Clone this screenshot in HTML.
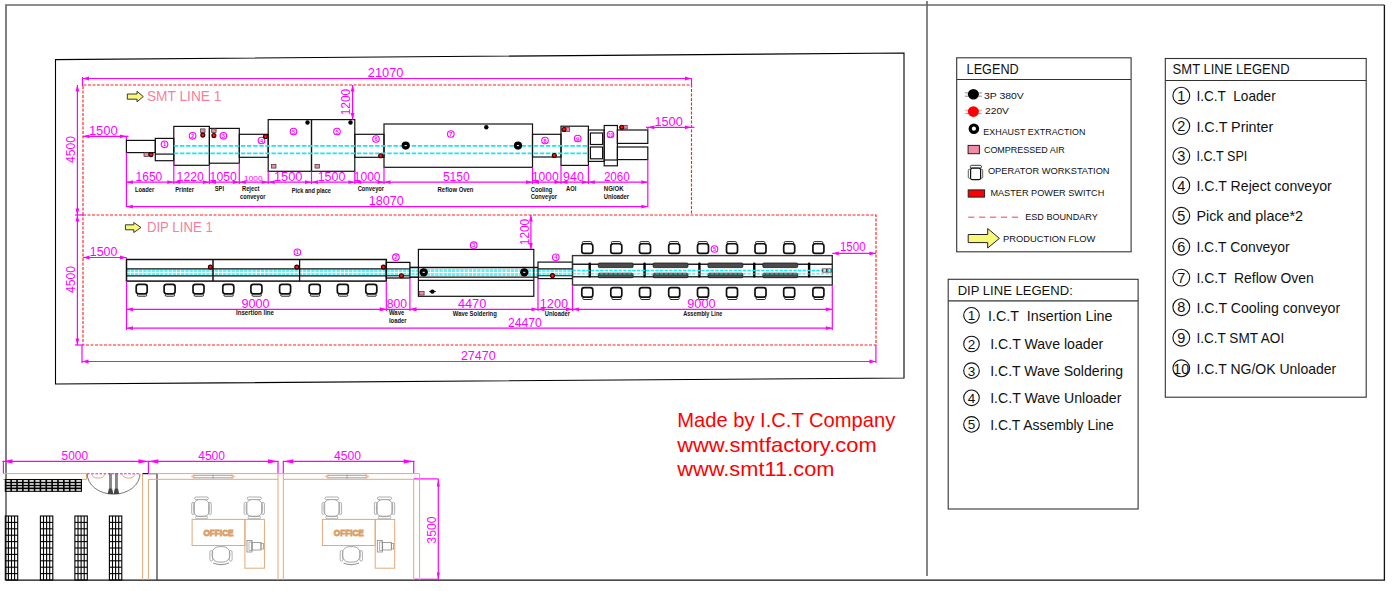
<!DOCTYPE html>
<html><head><meta charset="utf-8"><style>
html,body{margin:0;padding:0;background:#fff;}
svg{display:block;font-family:"Liberation Sans",sans-serif;}
text{white-space:pre;}
</style></head><body>
<svg width="1392" height="591" viewBox="0 0 1392 591">
<rect x="0" y="0" width="1392" height="591" fill="#fff"/>
<polyline points="6,580 6,5 1384.4,5" fill="none" stroke="#6a6a6a" stroke-width="1.7"/>
<polyline points="1384.4,5 1384.4,580.2 6,580.2" fill="none" stroke="#111" stroke-width="1.3"/>
<line x1="927" y1="1" x2="927" y2="576" stroke="#666" stroke-width="1.6" />
<polygon points="55.5,59.6 904,53 904,378 55.5,384" fill="none" stroke="#000" stroke-width="1.1"/>
<rect x="956.7" y="57.8" width="174.4" height="194" stroke="#333" stroke-width="1.1" fill="none" />
<line x1="956.7" y1="79.5" x2="1131.1" y2="79.5" stroke="#333" stroke-width="1.1" />
<text x="966.6" y="74.2" font-size="15" fill="#111" text-anchor="start" textLength="52.1" lengthAdjust="spacingAndGlyphs" >LEGEND</text>
<line x1="964.9" y1="92.89999999999999" x2="981.9" y2="92.89999999999999" stroke="#000" stroke-width="1" opacity="0.45"/>
<line x1="964.9" y1="96.2" x2="981.9" y2="96.2" stroke="#000" stroke-width="1" opacity="0.45"/>
<ellipse cx="973.4" cy="94.3" rx="5.5" ry="5.3" fill="#000"/>
<text x="983.9" y="98.9" font-size="9.8" fill="#111" text-anchor="start" textLength="39.9" lengthAdjust="spacingAndGlyphs" >3P 380V</text>
<line x1="964.9" y1="110.19999999999999" x2="981.9" y2="110.19999999999999" stroke="#ff0000" stroke-width="1" opacity="0.45"/>
<line x1="964.9" y1="113.5" x2="981.9" y2="113.5" stroke="#ff0000" stroke-width="1" opacity="0.45"/>
<ellipse cx="973.4" cy="111.6" rx="5.5" ry="5.3" fill="#ff0000"/>
<text x="985.0" y="114.1" font-size="9.8" fill="#111" text-anchor="start" textLength="23.9" lengthAdjust="spacingAndGlyphs" >220V</text>
<circle cx="973.9" cy="128.7" r="3.7" fill="none" stroke="#000" stroke-width="3.2"/>
<text x="983.3" y="134.8" font-size="9.8" fill="#111" text-anchor="start" textLength="102.1" lengthAdjust="spacingAndGlyphs" >EXHAUST EXTRACTION</text>
<rect x="968.1" y="145.4" width="11.3" height="8.3" stroke="#222" stroke-width="1" fill="#f48aa5" />
<text x="983.9" y="152.8" font-size="9.8" fill="#111" text-anchor="start" textLength="80.9" lengthAdjust="spacingAndGlyphs" >COMPRESSED AIR</text>
<rect x="970.3" y="165.3" width="11.2" height="2.9" rx="1.4" fill="#fff" stroke="#222" stroke-width="0.9"/>
<rect x="968.3" y="169.3" width="2.4" height="9" rx="1" fill="#fff" stroke="#333" stroke-width="0.8"/>
<rect x="980.3" y="169.3" width="2.4" height="9" rx="1" fill="#fff" stroke="#333" stroke-width="0.8"/>
<rect x="970.6" y="168.2" width="10" height="11.5" rx="1.8" fill="#fff" stroke="#111" stroke-width="1.2"/>
<text x="987.9" y="174" font-size="9.8" fill="#111" text-anchor="start" textLength="121.7" lengthAdjust="spacingAndGlyphs" >OPERATOR WORKSTATION</text>
<rect x="968.2" y="189.9" width="16.4" height="7.2" stroke="#222" stroke-width="1" fill="#ff0000" />
<text x="990.4" y="196.1" font-size="9.8" fill="#111" text-anchor="start" textLength="113.9" lengthAdjust="spacingAndGlyphs" >MASTER POWER SWITCH</text>
<line x1="968.2" y1="217.2" x2="1021.2" y2="217.2" stroke="#ff7a8a" stroke-width="1.6" stroke-dasharray="6.2,4.7"/>
<text x="1025.2" y="220" font-size="9.8" fill="#111" text-anchor="start" textLength="72.6" lengthAdjust="spacingAndGlyphs" >ESD BOUNDARY</text>
<polygon points="968.2,234.5 987.7,234.5 987.7,228.5 999.4,238.4 987.7,248 987.7,242.6 968.2,242.6" fill="#f7f77a" stroke="#222" stroke-width="1"/>
<text x="1002.9" y="242" font-size="9.8" fill="#111" text-anchor="start" textLength="92.5" lengthAdjust="spacingAndGlyphs" >PRODUCTION FLOW</text>
<rect x="1165.3" y="58.5" width="200.9" height="338.7" stroke="#333" stroke-width="1.1" fill="none" />
<line x1="1165.3" y1="80.5" x2="1366.2" y2="80.5" stroke="#333" stroke-width="1.1" />
<text x="1172.6" y="74.4" font-size="15" fill="#111" text-anchor="start" textLength="117.0" lengthAdjust="spacingAndGlyphs" >SMT LINE LEGEND</text>
<circle cx="1181.3" cy="95.7" r="8.4" fill="none" stroke="#111" stroke-width="1.1"/>
<text x="1181.3" y="100.9" font-size="14.5" fill="#111" text-anchor="middle" >1</text>
<text x="1196.4" y="101.10000000000001" font-size="15" fill="#111" text-anchor="start" textLength="79.3" lengthAdjust="spacingAndGlyphs" >I.C.T  Loader</text>
<circle cx="1181.3" cy="126.1" r="8.4" fill="none" stroke="#111" stroke-width="1.1"/>
<text x="1181.3" y="131.29999999999998" font-size="14.5" fill="#111" text-anchor="middle" >2</text>
<text x="1196.4" y="131.5" font-size="15" fill="#111" text-anchor="start" textLength="76.9" lengthAdjust="spacingAndGlyphs" >I.C.T Printer</text>
<circle cx="1181.3" cy="155.9" r="8.4" fill="none" stroke="#111" stroke-width="1.1"/>
<text x="1181.3" y="161.1" font-size="14.5" fill="#111" text-anchor="middle" >3</text>
<text x="1196.4" y="161.3" font-size="15" fill="#111" text-anchor="start" textLength="50.9" lengthAdjust="spacingAndGlyphs" >I.C.T SPI</text>
<circle cx="1181.3" cy="185.4" r="8.4" fill="none" stroke="#111" stroke-width="1.1"/>
<text x="1181.3" y="190.6" font-size="14.5" fill="#111" text-anchor="middle" >4</text>
<text x="1196.4" y="190.8" font-size="15" fill="#111" text-anchor="start" textLength="135.4" lengthAdjust="spacingAndGlyphs" >I.C.T Reject conveyor</text>
<circle cx="1181.3" cy="215.8" r="8.4" fill="none" stroke="#111" stroke-width="1.1"/>
<text x="1181.3" y="221.0" font-size="14.5" fill="#111" text-anchor="middle" >5</text>
<text x="1196.4" y="221.20000000000002" font-size="15" fill="#111" text-anchor="start" textLength="106.7" lengthAdjust="spacingAndGlyphs" >Pick and place*2</text>
<circle cx="1181.3" cy="246.7" r="8.4" fill="none" stroke="#111" stroke-width="1.1"/>
<text x="1181.3" y="251.89999999999998" font-size="14.5" fill="#111" text-anchor="middle" >6</text>
<text x="1196.4" y="252.1" font-size="15" fill="#111" text-anchor="start" textLength="93.3" lengthAdjust="spacingAndGlyphs" >I.C.T Conveyor</text>
<circle cx="1181.3" cy="277.6" r="8.4" fill="none" stroke="#111" stroke-width="1.1"/>
<text x="1181.3" y="282.8" font-size="14.5" fill="#111" text-anchor="middle" >7</text>
<text x="1196.4" y="283.0" font-size="15" fill="#111" text-anchor="start" textLength="117.4" lengthAdjust="spacingAndGlyphs" >I.C.T  Reflow Oven</text>
<circle cx="1181.3" cy="307.2" r="8.4" fill="none" stroke="#111" stroke-width="1.1"/>
<text x="1181.3" y="312.4" font-size="14.5" fill="#111" text-anchor="middle" >8</text>
<text x="1196.4" y="312.59999999999997" font-size="15" fill="#111" text-anchor="start" textLength="143.8" lengthAdjust="spacingAndGlyphs" >I.C.T Cooling conveyor</text>
<circle cx="1181.3" cy="337.7" r="8.4" fill="none" stroke="#111" stroke-width="1.1"/>
<text x="1181.3" y="342.9" font-size="14.5" fill="#111" text-anchor="middle" >9</text>
<text x="1196.4" y="343.09999999999997" font-size="15" fill="#111" text-anchor="start" textLength="87.8" lengthAdjust="spacingAndGlyphs" >I.C.T SMT AOI</text>
<circle cx="1181.3" cy="368.3" r="8.4" fill="none" stroke="#111" stroke-width="1.1"/>
<text x="1181.3" y="373.5" font-size="14.5" fill="#111" text-anchor="middle" textLength="16" lengthAdjust="spacingAndGlyphs" >10</text>
<text x="1196.4" y="373.7" font-size="15" fill="#111" text-anchor="start" textLength="139.9" lengthAdjust="spacingAndGlyphs" >I.C.T NG/OK Unloader</text>
<rect x="948.2" y="279.3" width="189.9" height="229.7" stroke="#333" stroke-width="1.1" fill="none" />
<line x1="948.2" y1="300.9" x2="1138.1" y2="300.9" stroke="#333" stroke-width="1.1" />
<text x="957.7" y="295.4" font-size="13.7" fill="#111" text-anchor="start" textLength="115.1" lengthAdjust="spacingAndGlyphs" >DIP LINE LEGEND:</text>
<circle cx="971.5" cy="315.3" r="7.8" fill="none" stroke="#111" stroke-width="1.1"/>
<text x="971.5" y="320.2" font-size="13.5" fill="#111" text-anchor="middle" >1</text>
<text x="988.1" y="320.6" font-size="15" fill="#111" text-anchor="start" textLength="124.4" lengthAdjust="spacingAndGlyphs" >I.C.T  Insertion Line</text>
<circle cx="971.5" cy="344" r="7.8" fill="none" stroke="#111" stroke-width="1.1"/>
<text x="971.5" y="348.9" font-size="13.5" fill="#111" text-anchor="middle" >2</text>
<text x="990.2" y="349.3" font-size="15" fill="#111" text-anchor="start" textLength="113.0" lengthAdjust="spacingAndGlyphs" >I.C.T Wave loader</text>
<circle cx="971.5" cy="370.7" r="7.8" fill="none" stroke="#111" stroke-width="1.1"/>
<text x="971.5" y="375.59999999999997" font-size="13.5" fill="#111" text-anchor="middle" >3</text>
<text x="990.2" y="376.0" font-size="15" fill="#111" text-anchor="start" textLength="132.9" lengthAdjust="spacingAndGlyphs" >I.C.T Wave Soldering</text>
<circle cx="971.5" cy="397.8" r="7.8" fill="none" stroke="#111" stroke-width="1.1"/>
<text x="971.5" y="402.7" font-size="13.5" fill="#111" text-anchor="middle" >4</text>
<text x="990.2" y="403.1" font-size="15" fill="#111" text-anchor="start" textLength="131.2" lengthAdjust="spacingAndGlyphs" >I.C.T Wave Unloader</text>
<circle cx="971.5" cy="424.4" r="7.8" fill="none" stroke="#111" stroke-width="1.1"/>
<text x="971.5" y="429.29999999999995" font-size="13.5" fill="#111" text-anchor="middle" >5</text>
<text x="990.2" y="429.7" font-size="15" fill="#111" text-anchor="start" textLength="123.6" lengthAdjust="spacingAndGlyphs" >I.C.T Assembly Line</text>
<text x="677.2" y="427.1" font-size="19.8" fill="#ff0000" text-anchor="start" textLength="218.1" lengthAdjust="spacingAndGlyphs" >Made by I.C.T Company</text>
<text x="677.2" y="451.7" font-size="19.8" fill="#ff0000" text-anchor="start" textLength="199.5" lengthAdjust="spacingAndGlyphs" >www.smtfactory.com</text>
<text x="677.2" y="476.2" font-size="19.8" fill="#ff0000" text-anchor="start" textLength="157.3" lengthAdjust="spacingAndGlyphs" >www.smt11.com</text>
<path d="M83,215 L83,85 L691.5,85 L691.5,215" fill="none" stroke="#ff2020" stroke-width="1.15" stroke-dasharray="3,1.5"/>
<path d="M83,215 L876,215 L876,345 L83,345 Z" fill="none" stroke="#ff2020" stroke-width="1.15" stroke-dasharray="3,1.5"/>
<line x1="82.5" y1="78.5" x2="691.5" y2="78.5" stroke="#ff00ff" stroke-width="1.2" />
<polygon points="82.5,78.5 89.0,76.6 89.0,80.4" fill="#ff00ff"/>
<polygon points="691.5,78.5 685.0,76.6 685.0,80.4" fill="#ff00ff"/>
<line x1="82.5" y1="77" x2="82.5" y2="86" stroke="#ff00ff" stroke-width="1.2" />
<line x1="691.5" y1="78" x2="691.5" y2="86" stroke="#ff00ff" stroke-width="1.2" />
<text x="367.8" y="77.2" font-size="13.3" fill="#ff00ff" text-anchor="start" textLength="35.7" lengthAdjust="spacingAndGlyphs" >21070</text>
<line x1="77.4" y1="85" x2="77.4" y2="215" stroke="#ff00ff" stroke-width="1.2" />
<polygon points="77.4,85 75.5,91.5 79.30000000000001,91.5" fill="#ff00ff"/>
<polygon points="77.4,215 75.5,208.5 79.30000000000001,208.5" fill="#ff00ff"/>
<text x="0" y="0" font-size="13.3" fill="#ff00ff" text-anchor="middle" textLength="27" lengthAdjust="spacingAndGlyphs" transform="translate(74.5,149.5) rotate(-90)">4500</text>
<polygon points="127.3,94 137,94 137,91.3 143.3,96.6 137,101.8 137,99.2 127.3,99.2" fill="#f7f77a" stroke="#222" stroke-width="0.9"/>
<text x="146.9" y="100.8" font-size="14.5" fill="#f77f9c" text-anchor="start" textLength="74.5" lengthAdjust="spacingAndGlyphs" >SMT LINE 1</text>
<line x1="83" y1="136.3" x2="126.4" y2="136.3" stroke="#ff00ff" stroke-width="1.2" />
<polygon points="83,136.3 89.5,134.4 89.5,138.20000000000002" fill="#ff00ff"/>
<polygon points="126.4,136.3 119.9,134.4 119.9,138.20000000000002" fill="#ff00ff"/>
<text x="88.9" y="135" font-size="12.5" fill="#ff00ff" text-anchor="start" textLength="28.9" lengthAdjust="spacingAndGlyphs" >1500</text>
<line x1="126.4" y1="136.3" x2="126.4" y2="140.4" stroke="#ff00ff" stroke-width="1.2" />
<line x1="126" y1="136.3" x2="128.6" y2="136.3" stroke="#ff00ff" stroke-width="1.2" />
<rect x="126.4" y="140.4" width="28.9" height="12.2" stroke="#111" stroke-width="1.2" fill="none" />
<rect x="155.3" y="138.4" width="18.5" height="22.3" stroke="#111" stroke-width="1.2" fill="none" />
<line x1="155.3" y1="154.1" x2="173.8" y2="154.1" stroke="#111" stroke-width="1.2" />
<rect x="173.8" y="126.4" width="35.6" height="38.9" stroke="#111" stroke-width="1.2" fill="none" />
<rect x="209.4" y="128.4" width="29.9" height="34.8" stroke="#111" stroke-width="1.2" fill="none" />
<rect x="239.3" y="134.3" width="28.9" height="23.0" stroke="#111" stroke-width="1.2" fill="none" />
<rect x="268.2" y="119.6" width="43.3" height="51.7" stroke="#111" stroke-width="1.2" fill="none" />
<rect x="311.5" y="119.6" width="43.3" height="51.7" stroke="#111" stroke-width="1.2" fill="none" />
<rect x="354.8" y="134.3" width="29.2" height="23.0" stroke="#111" stroke-width="1.2" fill="none" />
<rect x="384" y="124" width="148.5" height="43.3" stroke="#111" stroke-width="1.2" fill="none" />
<rect x="532.5" y="134.3" width="28.5" height="22.7" stroke="#111" stroke-width="1.2" fill="none" />
<rect x="561" y="126.2" width="27.4" height="39.2" stroke="#111" stroke-width="1.2" fill="none" />
<rect x="588.4" y="130" width="15.8" height="31.4" stroke="#111" stroke-width="1.2" fill="none" />
<rect x="590.4" y="133" width="12.2" height="11.5" stroke="#111" stroke-width="1.2" fill="none" />
<rect x="590.4" y="147" width="12.2" height="11.8" stroke="#111" stroke-width="1.2" fill="none" />
<rect x="604.2" y="125.5" width="13.2" height="40.3" stroke="#111" stroke-width="1.2" fill="none" />
<line x1="604.2" y1="160" x2="617.4" y2="160" stroke="#111" stroke-width="1.2" />
<rect x="617.4" y="130" width="30.4" height="13.4" stroke="#111" stroke-width="1.2" fill="none" />
<rect x="617.4" y="147" width="30.4" height="12.6" stroke="#111" stroke-width="1.2" fill="none" />
<line x1="173.8" y1="145.8" x2="588.4" y2="145.8" stroke="#19e6f0" stroke-width="1.8" stroke-dasharray="4.5,1.6"/>
<line x1="173.8" y1="153.3" x2="588.4" y2="153.3" stroke="#19e6f0" stroke-width="1.8" stroke-dasharray="4.5,1.6"/>
<circle cx="164.5" cy="144.3" r="3.3" fill="none" stroke="#ff00ff" stroke-width="1.1"/>
<text x="164.5" y="146.346" font-size="5.7749999999999995" font-weight="bold" fill="#ff00ff" text-anchor="middle">1</text>
<circle cx="192.6" cy="135.8" r="3.3" fill="none" stroke="#ff00ff" stroke-width="1.1"/>
<text x="192.6" y="137.846" font-size="5.7749999999999995" font-weight="bold" fill="#ff00ff" text-anchor="middle">2</text>
<circle cx="223.4" cy="135.8" r="3.3" fill="none" stroke="#ff00ff" stroke-width="1.1"/>
<text x="223.4" y="137.846" font-size="5.7749999999999995" font-weight="bold" fill="#ff00ff" text-anchor="middle">3</text>
<circle cx="261.5" cy="140.5" r="3.3" fill="none" stroke="#ff00ff" stroke-width="1.1"/>
<text x="261.5" y="142.546" font-size="5.7749999999999995" font-weight="bold" fill="#ff00ff" text-anchor="middle">4</text>
<circle cx="293.5" cy="131.5" r="3.3" fill="none" stroke="#ff00ff" stroke-width="1.1"/>
<text x="293.5" y="133.546" font-size="5.7749999999999995" font-weight="bold" fill="#ff00ff" text-anchor="middle">5</text>
<circle cx="337" cy="131.5" r="3.3" fill="none" stroke="#ff00ff" stroke-width="1.1"/>
<text x="337" y="133.546" font-size="5.7749999999999995" font-weight="bold" fill="#ff00ff" text-anchor="middle">5</text>
<circle cx="376" cy="139" r="3.3" fill="none" stroke="#ff00ff" stroke-width="1.1"/>
<text x="376" y="141.046" font-size="5.7749999999999995" font-weight="bold" fill="#ff00ff" text-anchor="middle">6</text>
<circle cx="450.8" cy="134" r="3.3" fill="none" stroke="#ff00ff" stroke-width="1.1"/>
<text x="450.8" y="136.046" font-size="5.7749999999999995" font-weight="bold" fill="#ff00ff" text-anchor="middle">7</text>
<circle cx="545" cy="140.5" r="3.3" fill="none" stroke="#ff00ff" stroke-width="1.1"/>
<text x="545" y="142.546" font-size="5.7749999999999995" font-weight="bold" fill="#ff00ff" text-anchor="middle">8</text>
<circle cx="577.7" cy="138.5" r="3.3" fill="none" stroke="#ff00ff" stroke-width="1.1"/>
<text x="577.7" y="140.546" font-size="5.7749999999999995" font-weight="bold" fill="#ff00ff" text-anchor="middle">9</text>
<circle cx="610.5" cy="134.5" r="3.3" fill="none" stroke="#ff00ff" stroke-width="1.1"/>
<text x="610.5" y="136.546" font-size="4.949999999999999" font-weight="bold" fill="#ff00ff" text-anchor="middle">10</text>
<rect x="144.0" y="152.79999999999998" width="4.4" height="3.6" fill="#f48aa5" stroke="#333" stroke-width="0.7"/>
<circle cx="151" cy="154.6" r="2.0" fill="#ff0000" stroke="#2a0000" stroke-width="1.1"/>
<circle cx="151" cy="154.6" r="0.81" fill="#ff2020"/>
<rect x="200.60000000000002" y="128.89999999999998" width="4.4" height="3.6" fill="#f48aa5" stroke="#333" stroke-width="0.7"/>
<circle cx="202.8" cy="135.1" r="2.0" fill="#ff0000" stroke="#2a0000" stroke-width="1.1"/>
<circle cx="202.8" cy="135.1" r="0.81" fill="#ff2020"/>
<rect x="211.70000000000002" y="128.89999999999998" width="4.4" height="3.6" fill="#f48aa5" stroke="#333" stroke-width="0.7"/>
<circle cx="213.9" cy="135.5" r="2.0" fill="#ff0000" stroke="#2a0000" stroke-width="1.1"/>
<circle cx="213.9" cy="135.5" r="0.81" fill="#ff2020"/>
<circle cx="265.5" cy="136.5" r="2.0" fill="#ff0000" stroke="#2a0000" stroke-width="1.1"/>
<circle cx="265.5" cy="136.5" r="0.81" fill="#ff2020"/>
<circle cx="307.5" cy="122.5" r="2.2" fill="#000"/>
<circle cx="350.5" cy="122.5" r="2.2" fill="#000"/>
<rect x="271.6" y="164.5" width="4.4" height="3.6" fill="#f48aa5" stroke="#333" stroke-width="0.7"/>
<rect x="315.0" y="164.5" width="4.4" height="3.6" fill="#f48aa5" stroke="#333" stroke-width="0.7"/>
<circle cx="380.7" cy="155.8" r="2.0" fill="#ff0000" stroke="#2a0000" stroke-width="1.1"/>
<circle cx="380.7" cy="155.8" r="0.81" fill="#ff2020"/>
<circle cx="405.7" cy="145.6" r="4.1" fill="#000"/>
<rect x="404.59999999999997" y="145.1" width="2.2" height="1" fill="#fff"/>
<circle cx="518" cy="145.6" r="4.1" fill="#000"/>
<rect x="516.9" y="145.1" width="2.2" height="1" fill="#fff"/>
<circle cx="486.3" cy="127.3" r="2.2" fill="#000"/>
<circle cx="554.3" cy="155.5" r="2.0" fill="#ff0000" stroke="#2a0000" stroke-width="1.1"/>
<circle cx="554.3" cy="155.5" r="0.81" fill="#ff2020"/>
<rect x="565.3" y="127.7" width="4.4" height="3.6" fill="#f48aa5" stroke="#333" stroke-width="0.7"/>
<circle cx="564" cy="129.5" r="2.0" fill="#ff0000" stroke="#2a0000" stroke-width="1.1"/>
<circle cx="564" cy="129.5" r="0.81" fill="#ff2020"/>
<rect x="622.8" y="125.4" width="4.4" height="3.6" fill="#f48aa5" stroke="#333" stroke-width="0.7"/>
<circle cx="621.7" cy="127.2" r="2.0" fill="#ff0000" stroke="#2a0000" stroke-width="1.1"/>
<circle cx="621.7" cy="127.2" r="0.81" fill="#ff2020"/>
<line x1="647.8" y1="127.3" x2="691.5" y2="127.3" stroke="#ff00ff" stroke-width="1.2" />
<polygon points="647.8,127.3 654.3,125.39999999999999 654.3,129.2" fill="#ff00ff"/>
<polygon points="691.5,127.3 685.0,125.39999999999999 685.0,129.2" fill="#ff00ff"/>
<text x="654.4" y="126.2" font-size="12.5" fill="#ff00ff" text-anchor="start" textLength="28.4" lengthAdjust="spacingAndGlyphs" >1500</text>
<line x1="647.8" y1="127.3" x2="647.8" y2="130" stroke="#ff00ff" stroke-width="1.2" />
<line x1="691" y1="127.3" x2="694.5" y2="127.3" stroke="#ff00ff" stroke-width="1.2" />
<line x1="646" y1="127.3" x2="647.8" y2="127.3" stroke="#ff00ff" stroke-width="1.2" />
<line x1="352.6" y1="85" x2="352.6" y2="119.6" stroke="#ff00ff" stroke-width="1.2" />
<polygon points="352.6,85 350.70000000000005,91.5 354.5,91.5" fill="#ff00ff"/>
<polygon points="352.6,119.6 350.70000000000005,113.1 354.5,113.1" fill="#ff00ff"/>
<text x="0" y="0" font-size="12.5" fill="#ff00ff" text-anchor="middle" textLength="26.5" lengthAdjust="spacingAndGlyphs" transform="translate(349.5,102) rotate(-90)">1200</text>
<line x1="126.4" y1="182.2" x2="647.8" y2="182.2" stroke="#ff00ff" stroke-width="1.2" />
<polygon points="126.4,182.2 132.9,180.29999999999998 132.9,184.1" fill="#ff00ff"/>
<polygon points="173.8,182.2 167.3,180.29999999999998 167.3,184.1" fill="#ff00ff"/>
<polygon points="173.8,182.2 180.3,180.29999999999998 180.3,184.1" fill="#ff00ff"/>
<polygon points="209.4,182.2 202.9,180.29999999999998 202.9,184.1" fill="#ff00ff"/>
<polygon points="209.4,182.2 215.9,180.29999999999998 215.9,184.1" fill="#ff00ff"/>
<polygon points="239.3,182.2 232.8,180.29999999999998 232.8,184.1" fill="#ff00ff"/>
<polygon points="239.3,182.2 245.8,180.29999999999998 245.8,184.1" fill="#ff00ff"/>
<polygon points="268.2,182.2 261.7,180.29999999999998 261.7,184.1" fill="#ff00ff"/>
<polygon points="268.2,182.2 274.7,180.29999999999998 274.7,184.1" fill="#ff00ff"/>
<polygon points="311.5,182.2 305.0,180.29999999999998 305.0,184.1" fill="#ff00ff"/>
<polygon points="311.5,182.2 318.0,180.29999999999998 318.0,184.1" fill="#ff00ff"/>
<polygon points="354.8,182.2 348.3,180.29999999999998 348.3,184.1" fill="#ff00ff"/>
<polygon points="354.8,182.2 361.3,180.29999999999998 361.3,184.1" fill="#ff00ff"/>
<polygon points="384,182.2 377.5,180.29999999999998 377.5,184.1" fill="#ff00ff"/>
<polygon points="384,182.2 390.5,180.29999999999998 390.5,184.1" fill="#ff00ff"/>
<polygon points="532.5,182.2 526.0,180.29999999999998 526.0,184.1" fill="#ff00ff"/>
<polygon points="532.5,182.2 539.0,180.29999999999998 539.0,184.1" fill="#ff00ff"/>
<polygon points="561,182.2 554.5,180.29999999999998 554.5,184.1" fill="#ff00ff"/>
<polygon points="561,182.2 567.5,180.29999999999998 567.5,184.1" fill="#ff00ff"/>
<polygon points="588.4,182.2 581.9,180.29999999999998 581.9,184.1" fill="#ff00ff"/>
<polygon points="588.4,182.2 594.9,180.29999999999998 594.9,184.1" fill="#ff00ff"/>
<polygon points="647.8,182.2 641.3,180.29999999999998 641.3,184.1" fill="#ff00ff"/>
<line x1="126.4" y1="152.6" x2="126.4" y2="207" stroke="#ff00ff" stroke-width="1.2" />
<line x1="173.8" y1="160.7" x2="173.8" y2="184" stroke="#ff00ff" stroke-width="1.2" />
<line x1="209.4" y1="165.3" x2="209.4" y2="184" stroke="#ff00ff" stroke-width="1.2" />
<line x1="239.3" y1="163.2" x2="239.3" y2="184" stroke="#ff00ff" stroke-width="1.2" />
<line x1="268.2" y1="171.3" x2="268.2" y2="184" stroke="#ff00ff" stroke-width="1.2" />
<line x1="311.5" y1="171.3" x2="311.5" y2="184" stroke="#ff00ff" stroke-width="1.2" />
<line x1="354.8" y1="171.3" x2="354.8" y2="184" stroke="#ff00ff" stroke-width="1.2" />
<line x1="384" y1="167.3" x2="384" y2="184" stroke="#ff00ff" stroke-width="1.2" />
<line x1="532.5" y1="167.3" x2="532.5" y2="184" stroke="#ff00ff" stroke-width="1.2" />
<line x1="561" y1="165.4" x2="561" y2="184" stroke="#ff00ff" stroke-width="1.2" />
<line x1="588.4" y1="165.4" x2="588.4" y2="184" stroke="#ff00ff" stroke-width="1.2" />
<line x1="647.8" y1="159.6" x2="647.8" y2="207" stroke="#ff00ff" stroke-width="1.2" />
<text x="135.6" y="180.7" font-size="12.3" fill="#ff00ff" text-anchor="start" textLength="26.7" lengthAdjust="spacingAndGlyphs" >1650</text>
<text x="176.6" y="180.7" font-size="12.3" fill="#ff00ff" text-anchor="start" textLength="27.2" lengthAdjust="spacingAndGlyphs" >1220</text>
<text x="209.6" y="180.7" font-size="12.3" fill="#ff00ff" text-anchor="start" textLength="27.2" lengthAdjust="spacingAndGlyphs" >1050</text>
<text x="273.9" y="180.7" font-size="12.3" fill="#ff00ff" text-anchor="start" textLength="28.6" lengthAdjust="spacingAndGlyphs" >1500</text>
<text x="317.7" y="180.7" font-size="12.3" fill="#ff00ff" text-anchor="start" textLength="27.7" lengthAdjust="spacingAndGlyphs" >1500</text>
<text x="353.7" y="180.7" font-size="12.3" fill="#ff00ff" text-anchor="start" textLength="26.9" lengthAdjust="spacingAndGlyphs" >1000</text>
<text x="442.9" y="180.7" font-size="12.3" fill="#ff00ff" text-anchor="start" textLength="26.9" lengthAdjust="spacingAndGlyphs" >5150</text>
<text x="531.9" y="180.7" font-size="12.3" fill="#ff00ff" text-anchor="start" textLength="26.9" lengthAdjust="spacingAndGlyphs" >1000</text>
<text x="563.1" y="180.7" font-size="12.3" fill="#ff00ff" text-anchor="start" textLength="20.7" lengthAdjust="spacingAndGlyphs" >940</text>
<text x="603.9" y="180.7" font-size="12.3" fill="#ff00ff" text-anchor="start" textLength="25.9" lengthAdjust="spacingAndGlyphs" >2060</text>
<text x="244.1" y="180.7" font-size="8" fill="#ff00ff" text-anchor="start" textLength="18.4" lengthAdjust="spacingAndGlyphs" >1000</text>
<text x="135" y="191.6" font-size="6.3" fill="#111" font-weight="bold" textLength="19.3" lengthAdjust="spacingAndGlyphs">Loader</text>
<text x="175.2" y="191.6" font-size="6.3" fill="#111" font-weight="bold" textLength="18.9" lengthAdjust="spacingAndGlyphs">Printer</text>
<text x="214.8" y="190.8" font-size="6.3" fill="#111" font-weight="bold" textLength="9.2" lengthAdjust="spacingAndGlyphs">SPI</text>
<text x="242" y="190.8" font-size="6.3" fill="#111" font-weight="bold" textLength="17.3" lengthAdjust="spacingAndGlyphs">Reject</text>
<text x="240.1" y="198.7" font-size="6.3" fill="#111" font-weight="bold" textLength="25.3" lengthAdjust="spacingAndGlyphs">conveyor</text>
<text x="291.7" y="192.7" font-size="6.3" fill="#111" font-weight="bold" textLength="39.3" lengthAdjust="spacingAndGlyphs">Pick and place</text>
<text x="357.7" y="191.2" font-size="6.3" fill="#111" font-weight="bold" textLength="26.4" lengthAdjust="spacingAndGlyphs">Conveyor</text>
<text x="437.6" y="191.8" font-size="6.3" fill="#111" font-weight="bold" textLength="35.9" lengthAdjust="spacingAndGlyphs">Reflow Oven</text>
<text x="530.7" y="191.8" font-size="6.3" fill="#111" font-weight="bold" textLength="21.6" lengthAdjust="spacingAndGlyphs">Cooling</text>
<text x="530.7" y="198.8" font-size="6.3" fill="#111" font-weight="bold" textLength="26.4" lengthAdjust="spacingAndGlyphs">Conveyor</text>
<text x="566" y="190.7" font-size="6.3" fill="#111" font-weight="bold" textLength="10.3" lengthAdjust="spacingAndGlyphs">AOI</text>
<text x="603.8" y="190.7" font-size="6.3" fill="#111" font-weight="bold" textLength="19.8" lengthAdjust="spacingAndGlyphs">NG/OK</text>
<text x="603.8" y="198.8" font-size="6.3" fill="#111" font-weight="bold" textLength="25.3" lengthAdjust="spacingAndGlyphs">Unloader</text>
<line x1="126.4" y1="206.6" x2="647.8" y2="206.6" stroke="#ff00ff" stroke-width="1.2" />
<polygon points="126.4,206.6 132.9,204.7 132.9,208.5" fill="#ff00ff"/>
<polygon points="647.8,206.6 641.3,204.7 641.3,208.5" fill="#ff00ff"/>
<text x="368.7" y="205" font-size="13.3" fill="#ff00ff" text-anchor="start" textLength="35.1" lengthAdjust="spacingAndGlyphs" >18070</text>
<line x1="77.4" y1="215" x2="77.4" y2="345" stroke="#ff00ff" stroke-width="1.2" />
<polygon points="77.4,215 75.5,221.5 79.30000000000001,221.5" fill="#ff00ff"/>
<polygon points="77.4,345 75.5,338.5 79.30000000000001,338.5" fill="#ff00ff"/>
<line x1="75" y1="215" x2="83" y2="215" stroke="#ff00ff" stroke-width="1.2" />
<line x1="75" y1="345" x2="83" y2="345" stroke="#ff00ff" stroke-width="1.2" />
<text x="0" y="0" font-size="13.3" fill="#ff00ff" text-anchor="middle" textLength="27" lengthAdjust="spacingAndGlyphs" transform="translate(74.5,279.5) rotate(-90)">4500</text>
<polygon points="125.4,224.8 133.8,224.8 133.8,222.5 141,227.5 133.8,232.5 133.8,229.8 125.4,229.8" fill="#f7f77a" stroke="#222" stroke-width="0.9"/>
<text x="146.9" y="232.1" font-size="13.8" fill="#f77f9c" text-anchor="start" textLength="65.9" lengthAdjust="spacingAndGlyphs" >DIP LINE 1</text>
<line x1="83" y1="257.5" x2="126.5" y2="257.5" stroke="#ff00ff" stroke-width="1.2" />
<polygon points="83,257.5 89.5,255.6 89.5,259.4" fill="#ff00ff"/>
<polygon points="126.5,257.5 120.0,255.6 120.0,259.4" fill="#ff00ff"/>
<text x="89.8" y="255.7" font-size="12.5" fill="#ff00ff" text-anchor="start" textLength="27.5" lengthAdjust="spacingAndGlyphs" >1500</text>
<line x1="126.5" y1="257.5" x2="126.5" y2="259.5" stroke="#ff00ff" stroke-width="1.2" />
<line x1="126.5" y1="270.82" x2="386.3" y2="270.82" stroke="#62f4f8" stroke-width="2.44" stroke-dasharray="3.3,0.9"/>
<line x1="126.5" y1="273.88" x2="386.3" y2="273.88" stroke="#62f4f8" stroke-width="2.44" stroke-dasharray="3.3,0.9"/>
<rect x="126.5" y="259.5" width="259.8" height="21.6" stroke="#111" stroke-width="1.5" fill="none" />
<line x1="126.5" y1="268.9" x2="386.3" y2="268.9" stroke="#111" stroke-width="1.3" />
<line x1="126.5" y1="275.8" x2="386.3" y2="275.8" stroke="#111" stroke-width="1.3" />
<line x1="213" y1="259.5" x2="213" y2="281.1" stroke="#111" stroke-width="1.5" />
<line x1="299.6" y1="259.5" x2="299.6" y2="281.1" stroke="#111" stroke-width="1.3" />
<circle cx="210.4" cy="267.1" r="2.0" fill="#ff0000" stroke="#2a0000" stroke-width="1.1"/>
<circle cx="210.4" cy="267.1" r="0.81" fill="#ff2020"/>
<circle cx="296.8" cy="267.1" r="2.0" fill="#ff0000" stroke="#2a0000" stroke-width="1.1"/>
<circle cx="296.8" cy="267.1" r="0.81" fill="#ff2020"/>
<circle cx="383.4" cy="267.1" r="2.0" fill="#ff0000" stroke="#2a0000" stroke-width="1.1"/>
<circle cx="383.4" cy="267.1" r="0.81" fill="#ff2020"/>
<circle cx="297.4" cy="252.3" r="3.3" fill="none" stroke="#ff00ff" stroke-width="1.1"/>
<text x="297.4" y="254.346" font-size="5.7749999999999995" font-weight="bold" fill="#ff00ff" text-anchor="middle">1</text>
<rect x="137.29999999999998" y="294.092" width="9.399999999999999" height="2.107999999999996" rx="1" fill="#fff" stroke="#111" stroke-width="0.9"/>
<rect x="136.2" y="284.348" width="11.0" height="9.423999999999984" rx="2.4" fill="#fff" stroke="#111" stroke-width="1.7"/>
<rect x="165.2" y="294.092" width="9.399999999999999" height="2.107999999999996" rx="1" fill="#fff" stroke="#111" stroke-width="0.9"/>
<rect x="164.1" y="284.348" width="11.0" height="9.423999999999984" rx="2.4" fill="#fff" stroke="#111" stroke-width="1.7"/>
<rect x="194.1" y="294.092" width="9.399999999999999" height="2.107999999999996" rx="1" fill="#fff" stroke="#111" stroke-width="0.9"/>
<rect x="193.0" y="284.348" width="11.0" height="9.423999999999984" rx="2.4" fill="#fff" stroke="#111" stroke-width="1.7"/>
<rect x="223.9" y="294.092" width="9.399999999999999" height="2.107999999999996" rx="1" fill="#fff" stroke="#111" stroke-width="0.9"/>
<rect x="222.8" y="284.348" width="11.0" height="9.423999999999984" rx="2.4" fill="#fff" stroke="#111" stroke-width="1.7"/>
<rect x="251.99999999999997" y="294.092" width="9.399999999999999" height="2.107999999999996" rx="1" fill="#fff" stroke="#111" stroke-width="0.9"/>
<rect x="250.89999999999998" y="284.348" width="11.0" height="9.423999999999984" rx="2.4" fill="#fff" stroke="#111" stroke-width="1.7"/>
<rect x="280.7" y="294.092" width="9.399999999999999" height="2.107999999999996" rx="1" fill="#fff" stroke="#111" stroke-width="0.9"/>
<rect x="279.6" y="284.348" width="11.0" height="9.423999999999984" rx="2.4" fill="#fff" stroke="#111" stroke-width="1.7"/>
<rect x="310.29999999999995" y="294.092" width="9.399999999999999" height="2.107999999999996" rx="1" fill="#fff" stroke="#111" stroke-width="0.9"/>
<rect x="309.2" y="284.348" width="11.0" height="9.423999999999984" rx="2.4" fill="#fff" stroke="#111" stroke-width="1.7"/>
<rect x="338.4" y="294.092" width="9.399999999999999" height="2.107999999999996" rx="1" fill="#fff" stroke="#111" stroke-width="0.9"/>
<rect x="337.3" y="284.348" width="11.0" height="9.423999999999984" rx="2.4" fill="#fff" stroke="#111" stroke-width="1.7"/>
<rect x="366.9" y="294.092" width="9.399999999999999" height="2.107999999999996" rx="1" fill="#fff" stroke="#111" stroke-width="0.9"/>
<rect x="365.8" y="284.348" width="11.0" height="9.423999999999984" rx="2.4" fill="#fff" stroke="#111" stroke-width="1.7"/>
<line x1="386.3" y1="270.82" x2="418.4" y2="270.82" stroke="#62f4f8" stroke-width="2.44" stroke-dasharray="3.3,0.9"/>
<line x1="386.3" y1="273.88" x2="418.4" y2="273.88" stroke="#62f4f8" stroke-width="2.44" stroke-dasharray="3.3,0.9"/>
<rect x="386.3" y="262.4" width="23.6" height="15.6" stroke="#111" stroke-width="1.3" fill="none" />
<line x1="386.3" y1="268.9" x2="409.9" y2="268.9" stroke="#111" stroke-width="1.1" />
<line x1="386.3" y1="275.8" x2="409.9" y2="275.8" stroke="#111" stroke-width="1.1" />
<line x1="409.9" y1="267.4" x2="418.4" y2="267.4" stroke="#222" stroke-width="1.1" />
<line x1="409.9" y1="277.3" x2="418.4" y2="277.3" stroke="#222" stroke-width="1.1" />
<circle cx="395.9" cy="257.2" r="3.3" fill="none" stroke="#ff00ff" stroke-width="1.1"/>
<text x="395.9" y="259.246" font-size="5.7749999999999995" font-weight="bold" fill="#ff00ff" text-anchor="middle">2</text>
<circle cx="401.5" cy="275.8" r="2.0" fill="#ff0000" stroke="#2a0000" stroke-width="1.1"/>
<circle cx="401.5" cy="275.8" r="0.81" fill="#ff2020"/>
<line x1="418.4" y1="270.5" x2="538" y2="270.5" stroke="#62f4f8" stroke-width="3.2" stroke-dasharray="3.3,0.9"/>
<line x1="418.4" y1="274.5" x2="538" y2="274.5" stroke="#62f4f8" stroke-width="3.2" stroke-dasharray="3.3,0.9"/>
<rect x="418.4" y="249.4" width="115.4" height="46.9" stroke="#111" stroke-width="1.2" fill="none" />
<line x1="410" y1="267.5" x2="538" y2="267.5" stroke="#111" stroke-width="1.3" />
<line x1="410" y1="277.2" x2="538" y2="277.2" stroke="#111" stroke-width="1.3" />
<line x1="418.4" y1="280.3" x2="533.8" y2="280.3" stroke="#111" stroke-width="1.2" />
<circle cx="423.7" cy="272.3" r="4.15" fill="#000"/>
<rect x="422.59999999999997" y="271.8" width="2.2" height="1" fill="#fff"/>
<circle cx="524.3" cy="272.3" r="4.15" fill="#000"/>
<rect x="523.1999999999999" y="271.8" width="2.2" height="1" fill="#fff"/>
<rect x="419.1" y="291.55" width="5" height="3.5" fill="#f48aa5" stroke="#333" stroke-width="0.7"/>
<circle cx="432.4" cy="291.6" r="2.2" fill="#000"/>
<line x1="429" y1="291.6" x2="436" y2="291.6" stroke="#000" stroke-width="0.8" />
<circle cx="473.7" cy="245.2" r="3.3" fill="none" stroke="#ff00ff" stroke-width="1.1"/>
<text x="473.7" y="247.24599999999998" font-size="5.7749999999999995" font-weight="bold" fill="#ff00ff" text-anchor="middle">3</text>
<line x1="530.9" y1="215" x2="530.9" y2="249.4" stroke="#ff00ff" stroke-width="1.2" />
<polygon points="530.9,215 529.0,221.5 532.8,221.5" fill="#ff00ff"/>
<polygon points="530.9,249.4 529.0,242.9 532.8,242.9" fill="#ff00ff"/>
<text x="0" y="0" font-size="12.5" fill="#ff00ff" text-anchor="middle" textLength="26.4" lengthAdjust="spacingAndGlyphs" transform="translate(528.5,232) rotate(-90)">1200</text>
<line x1="538" y1="270.82" x2="572.5" y2="270.82" stroke="#62f4f8" stroke-width="2.44" stroke-dasharray="3.3,0.9"/>
<line x1="538" y1="273.88" x2="572.5" y2="273.88" stroke="#62f4f8" stroke-width="2.44" stroke-dasharray="3.3,0.9"/>
<rect x="538" y="262.1" width="34.5" height="16.5" stroke="#111" stroke-width="1.2" fill="none" />
<line x1="538" y1="268.9" x2="572.5" y2="268.9" stroke="#111" stroke-width="1.1" />
<line x1="538" y1="275.8" x2="572.5" y2="275.8" stroke="#111" stroke-width="1.1" />
<circle cx="555.8" cy="257.3" r="3.3" fill="none" stroke="#ff00ff" stroke-width="1.1"/>
<text x="555.8" y="259.346" font-size="5.7749999999999995" font-weight="bold" fill="#ff00ff" text-anchor="middle">4</text>
<circle cx="552.5" cy="275.6" r="2.0" fill="#ff0000" stroke="#2a0000" stroke-width="1.1"/>
<circle cx="552.5" cy="275.6" r="0.81" fill="#ff2020"/>
<rect x="572.5" y="255.6" width="259.8" height="29.4" stroke="#333" stroke-width="1.4" fill="none" />
<line x1="572.5" y1="264.3" x2="832.3" y2="264.3" stroke="#222" stroke-width="1.6" />
<line x1="572.5" y1="276.8" x2="832.3" y2="276.8" stroke="#333" stroke-width="1.4" />
<rect x="588.5" y="262.5" width="2.4" height="15" rx="1" fill="#000"/>
<rect x="643.35" y="262.5" width="2.4" height="15" rx="1" fill="#000"/>
<rect x="698.2" y="262.5" width="2.4" height="15" rx="1" fill="#000"/>
<rect x="753.05" y="262.5" width="2.4" height="15" rx="1" fill="#000"/>
<rect x="807.9" y="262.5" width="2.4" height="15" rx="1" fill="#000"/>
<rect x="598.3" y="263" width="34.8" height="4.6" rx="1" fill="#4a4a4a" stroke="#1a1a1a" stroke-width="0.8"/>
<rect x="598.3" y="273.2" width="34.8" height="4.5" rx="1" fill="#4a4a4a" stroke="#1a1a1a" stroke-width="0.8"/>
<rect x="653.15" y="263" width="34.8" height="4.6" rx="1" fill="#4a4a4a" stroke="#1a1a1a" stroke-width="0.8"/>
<rect x="653.15" y="273.2" width="34.8" height="4.5" rx="1" fill="#4a4a4a" stroke="#1a1a1a" stroke-width="0.8"/>
<rect x="708.0" y="263" width="34.8" height="4.6" rx="1" fill="#4a4a4a" stroke="#1a1a1a" stroke-width="0.8"/>
<rect x="708.0" y="273.2" width="34.8" height="4.5" rx="1" fill="#4a4a4a" stroke="#1a1a1a" stroke-width="0.8"/>
<rect x="762.8499999999999" y="263" width="34.8" height="4.6" rx="1" fill="#4a4a4a" stroke="#1a1a1a" stroke-width="0.8"/>
<rect x="762.8499999999999" y="273.2" width="34.8" height="4.5" rx="1" fill="#4a4a4a" stroke="#1a1a1a" stroke-width="0.8"/>
<line x1="572.5" y1="270.4" x2="832.3" y2="270.4" stroke="#10eef5" stroke-width="1.5" stroke-dasharray="3.4,1.2"/>
<line x1="572.5" y1="273.9" x2="832.3" y2="273.9" stroke="#10e8ee" stroke-width="1.2" stroke-dasharray="3.4,1.2" opacity="0.75"/>
<rect x="822.3" y="268.9" width="4.2" height="3.2" stroke="#333" stroke-width="0.8" fill="none" />
<rect x="827" y="268.9" width="4.2" height="3.2" stroke="#5a1010" stroke-width="0.8" fill="none" />
<rect x="582.3" y="241.60000000000002" width="9.399999999999999" height="2.090999999999997" rx="1" fill="#fff" stroke="#111" stroke-width="0.9"/>
<rect x="581.8" y="243.76000000000002" width="11.0" height="9.593999999999987" rx="2.4" fill="#fff" stroke="#111" stroke-width="1.7"/>
<rect x="582.9" y="297.375" width="9.399999999999999" height="2.125" rx="1" fill="#fff" stroke="#111" stroke-width="0.9"/>
<rect x="581.8" y="287.55" width="11.0" height="9.5" rx="2.4" fill="#fff" stroke="#111" stroke-width="1.7"/>
<rect x="611.3" y="241.60000000000002" width="9.399999999999999" height="2.090999999999997" rx="1" fill="#fff" stroke="#111" stroke-width="0.9"/>
<rect x="610.8" y="243.76000000000002" width="11.0" height="9.593999999999987" rx="2.4" fill="#fff" stroke="#111" stroke-width="1.7"/>
<rect x="611.9" y="297.375" width="9.399999999999999" height="2.125" rx="1" fill="#fff" stroke="#111" stroke-width="0.9"/>
<rect x="610.8" y="287.55" width="11.0" height="9.5" rx="2.4" fill="#fff" stroke="#111" stroke-width="1.7"/>
<rect x="640.0" y="241.60000000000002" width="9.399999999999999" height="2.090999999999997" rx="1" fill="#fff" stroke="#111" stroke-width="0.9"/>
<rect x="639.5" y="243.76000000000002" width="11.0" height="9.593999999999987" rx="2.4" fill="#fff" stroke="#111" stroke-width="1.7"/>
<rect x="640.6" y="297.375" width="9.399999999999999" height="2.125" rx="1" fill="#fff" stroke="#111" stroke-width="0.9"/>
<rect x="639.5" y="287.55" width="11.0" height="9.5" rx="2.4" fill="#fff" stroke="#111" stroke-width="1.7"/>
<rect x="669.2" y="241.60000000000002" width="9.399999999999999" height="2.090999999999997" rx="1" fill="#fff" stroke="#111" stroke-width="0.9"/>
<rect x="668.7" y="243.76000000000002" width="11.0" height="9.593999999999987" rx="2.4" fill="#fff" stroke="#111" stroke-width="1.7"/>
<rect x="669.8000000000001" y="297.375" width="9.399999999999999" height="2.125" rx="1" fill="#fff" stroke="#111" stroke-width="0.9"/>
<rect x="668.7" y="287.55" width="11.0" height="9.5" rx="2.4" fill="#fff" stroke="#111" stroke-width="1.7"/>
<rect x="698.0" y="241.60000000000002" width="9.399999999999999" height="2.090999999999997" rx="1" fill="#fff" stroke="#111" stroke-width="0.9"/>
<rect x="697.5" y="243.76000000000002" width="11.0" height="9.593999999999987" rx="2.4" fill="#fff" stroke="#111" stroke-width="1.7"/>
<rect x="698.6" y="297.375" width="9.399999999999999" height="2.125" rx="1" fill="#fff" stroke="#111" stroke-width="0.9"/>
<rect x="697.5" y="287.55" width="11.0" height="9.5" rx="2.4" fill="#fff" stroke="#111" stroke-width="1.7"/>
<rect x="727.0" y="241.60000000000002" width="9.399999999999999" height="2.090999999999997" rx="1" fill="#fff" stroke="#111" stroke-width="0.9"/>
<rect x="726.5" y="243.76000000000002" width="11.0" height="9.593999999999987" rx="2.4" fill="#fff" stroke="#111" stroke-width="1.7"/>
<rect x="727.6" y="297.375" width="9.399999999999999" height="2.125" rx="1" fill="#fff" stroke="#111" stroke-width="0.9"/>
<rect x="726.5" y="287.55" width="11.0" height="9.5" rx="2.4" fill="#fff" stroke="#111" stroke-width="1.7"/>
<rect x="755.5" y="241.60000000000002" width="9.399999999999999" height="2.090999999999997" rx="1" fill="#fff" stroke="#111" stroke-width="0.9"/>
<rect x="755.0" y="243.76000000000002" width="11.0" height="9.593999999999987" rx="2.4" fill="#fff" stroke="#111" stroke-width="1.7"/>
<rect x="756.1" y="297.375" width="9.399999999999999" height="2.125" rx="1" fill="#fff" stroke="#111" stroke-width="0.9"/>
<rect x="755.0" y="287.55" width="11.0" height="9.5" rx="2.4" fill="#fff" stroke="#111" stroke-width="1.7"/>
<rect x="784.2" y="241.60000000000002" width="9.399999999999999" height="2.090999999999997" rx="1" fill="#fff" stroke="#111" stroke-width="0.9"/>
<rect x="783.7" y="243.76000000000002" width="11.0" height="9.593999999999987" rx="2.4" fill="#fff" stroke="#111" stroke-width="1.7"/>
<rect x="784.8000000000001" y="297.375" width="9.399999999999999" height="2.125" rx="1" fill="#fff" stroke="#111" stroke-width="0.9"/>
<rect x="783.7" y="287.55" width="11.0" height="9.5" rx="2.4" fill="#fff" stroke="#111" stroke-width="1.7"/>
<rect x="813.4" y="241.60000000000002" width="9.399999999999999" height="2.090999999999997" rx="1" fill="#fff" stroke="#111" stroke-width="0.9"/>
<rect x="812.9" y="243.76000000000002" width="11.0" height="9.593999999999987" rx="2.4" fill="#fff" stroke="#111" stroke-width="1.7"/>
<rect x="814.0" y="297.375" width="9.399999999999999" height="2.125" rx="1" fill="#fff" stroke="#111" stroke-width="0.9"/>
<rect x="812.9" y="287.55" width="11.0" height="9.5" rx="2.4" fill="#fff" stroke="#111" stroke-width="1.7"/>
<circle cx="714.5" cy="249" r="3.3" fill="none" stroke="#ff00ff" stroke-width="1.1"/>
<text x="714.5" y="251.046" font-size="5.7749999999999995" font-weight="bold" fill="#ff00ff" text-anchor="middle">5</text>
<line x1="832.3" y1="253.4" x2="875.9" y2="253.4" stroke="#ff00ff" stroke-width="1.2" />
<polygon points="832.3,253.4 838.8,251.5 838.8,255.3" fill="#ff00ff"/>
<polygon points="875.9,253.4 869.4,251.5 869.4,255.3" fill="#ff00ff"/>
<text x="839.9" y="251.4" font-size="12.5" fill="#ff00ff" text-anchor="start" textLength="25.7" lengthAdjust="spacingAndGlyphs" >1500</text>
<line x1="126.5" y1="309.3" x2="832.3" y2="309.3" stroke="#ff00ff" stroke-width="1.2" />
<polygon points="126.5,309.3 133.0,307.40000000000003 133.0,311.2" fill="#ff00ff"/>
<polygon points="386.3,309.3 379.8,307.40000000000003 379.8,311.2" fill="#ff00ff"/>
<polygon points="386.3,309.3 379.8,307.40000000000003 379.8,311.2" fill="#ff00ff"/>
<polygon points="409.9,309.3 416.4,307.40000000000003 416.4,311.2" fill="#ff00ff"/>
<polygon points="409.9,309.3 416.4,307.40000000000003 416.4,311.2" fill="#ff00ff"/>
<polygon points="538,309.3 531.5,307.40000000000003 531.5,311.2" fill="#ff00ff"/>
<polygon points="538,309.3 544.5,307.40000000000003 544.5,311.2" fill="#ff00ff"/>
<polygon points="572.5,309.3 566.0,307.40000000000003 566.0,311.2" fill="#ff00ff"/>
<polygon points="572.5,309.3 579.0,307.40000000000003 579.0,311.2" fill="#ff00ff"/>
<polygon points="832.3,309.3 825.8,307.40000000000003 825.8,311.2" fill="#ff00ff"/>
<line x1="126.5" y1="281.1" x2="126.5" y2="330" stroke="#ff00ff" stroke-width="1.2" />
<line x1="386.3" y1="281.1" x2="386.3" y2="311" stroke="#ff00ff" stroke-width="1.2" />
<line x1="409.9" y1="278" x2="409.9" y2="311" stroke="#ff00ff" stroke-width="1.2" />
<line x1="538" y1="278.6" x2="538" y2="311" stroke="#ff00ff" stroke-width="1.2" />
<line x1="572.5" y1="285" x2="572.5" y2="311" stroke="#ff00ff" stroke-width="1.2" />
<line x1="832.3" y1="285" x2="832.3" y2="330" stroke="#ff00ff" stroke-width="1.2" />
<text x="241.4" y="307.8" font-size="12.5" fill="#ff00ff" text-anchor="start" textLength="28.2" lengthAdjust="spacingAndGlyphs" >9000</text>
<text x="386.7" y="307.7" font-size="12.5" fill="#ff00ff" text-anchor="start" textLength="20.4" lengthAdjust="spacingAndGlyphs" >800</text>
<text x="457.9" y="308" font-size="12.5" fill="#ff00ff" text-anchor="start" textLength="28.4" lengthAdjust="spacingAndGlyphs" >4470</text>
<text x="539.7" y="308" font-size="12.5" fill="#ff00ff" text-anchor="start" textLength="28.4" lengthAdjust="spacingAndGlyphs" >1200</text>
<text x="687.2" y="308" font-size="12.5" fill="#ff00ff" text-anchor="start" textLength="28.4" lengthAdjust="spacingAndGlyphs" >9000</text>
<text x="236" y="315" font-size="6.3" fill="#111" font-weight="bold" textLength="38" lengthAdjust="spacingAndGlyphs">Insertion line</text>
<text x="389" y="314.9" font-size="6.3" fill="#111" font-weight="bold" textLength="15.2" lengthAdjust="spacingAndGlyphs">Wave</text>
<text x="389" y="322.6" font-size="6.3" fill="#111" font-weight="bold" textLength="17.5" lengthAdjust="spacingAndGlyphs">loader</text>
<text x="452.8" y="315.5" font-size="6.3" fill="#111" font-weight="bold" textLength="44" lengthAdjust="spacingAndGlyphs">Wave Soldering</text>
<text x="544.8" y="315.5" font-size="6.3" fill="#111" font-weight="bold" textLength="25.1" lengthAdjust="spacingAndGlyphs">Unloader</text>
<text x="683.2" y="315.5" font-size="6.3" fill="#111" font-weight="bold" textLength="39.2" lengthAdjust="spacingAndGlyphs">Assembly Line</text>
<line x1="126.5" y1="328.2" x2="832.3" y2="328.2" stroke="#ff00ff" stroke-width="1.2" />
<polygon points="126.5,328.2 133.0,326.3 133.0,330.09999999999997" fill="#ff00ff"/>
<polygon points="832.3,328.2 825.8,326.3 825.8,330.09999999999997" fill="#ff00ff"/>
<text x="507.9" y="326.6" font-size="13.3" fill="#ff00ff" text-anchor="start" textLength="33.9" lengthAdjust="spacingAndGlyphs" >24470</text>
<line x1="82" y1="361.5" x2="875.9" y2="361.5" stroke="#ff00ff" stroke-width="1.2" />
<polygon points="82,361.5 88.5,359.6 88.5,363.4" fill="#ff00ff"/>
<polygon points="875.9,361.5 869.4,359.6 869.4,363.4" fill="#ff00ff"/>
<line x1="82" y1="345" x2="82" y2="363" stroke="#ff00ff" stroke-width="1.2" />
<line x1="875.9" y1="345" x2="875.9" y2="363" stroke="#ff00ff" stroke-width="1.2" />
<text x="460.9" y="359.9" font-size="13.3" fill="#ff00ff" text-anchor="start" textLength="34.7" lengthAdjust="spacingAndGlyphs" >27470</text>
<line x1="2.5" y1="461.4" x2="438.3" y2="461.4" stroke="#ff00ff" stroke-width="1.2" />
<polygon points="2.5,461.4 12.5,459.2 12.5,463.59999999999997" fill="#ff00ff"/>
<polygon points="148.4,461.4 138.4,459.2 138.4,463.59999999999997" fill="#ff00ff"/>
<polygon points="148.4,461.4 158.4,459.2 158.4,463.59999999999997" fill="#ff00ff"/>
<polygon points="278,461.4 268,459.2 268,463.59999999999997" fill="#ff00ff"/>
<polygon points="283.3,461.4 293.3,459.2 293.3,463.59999999999997" fill="#ff00ff"/>
<polygon points="413.7,461.4 403.7,459.2 403.7,463.59999999999997" fill="#ff00ff"/>
<rect x="278.5" y="455" width="4.5" height="8" fill="#fff"/>
<rect x="414.5" y="455" width="30" height="8" fill="#fff"/>
<line x1="3.4" y1="461" x2="3.4" y2="473.6" stroke="#ff00ff" stroke-width="1.2" />
<line x1="148.4" y1="461" x2="148.4" y2="473.6" stroke="#ff00ff" stroke-width="1.2" />
<line x1="278" y1="461" x2="278" y2="473.6" stroke="#ff00ff" stroke-width="1.2" />
<line x1="283.3" y1="461" x2="283.3" y2="473.6" stroke="#ff00ff" stroke-width="1.2" />
<line x1="413.7" y1="461" x2="413.7" y2="473.6" stroke="#ff00ff" stroke-width="1.2" />
<text x="61.6" y="460" font-size="12.3" fill="#ff00ff" text-anchor="start" textLength="26.4" lengthAdjust="spacingAndGlyphs" >5000</text>
<text x="198.2" y="460" font-size="12.3" fill="#ff00ff" text-anchor="start" textLength="26.8" lengthAdjust="spacingAndGlyphs" >4500</text>
<text x="334.1" y="460" font-size="12.3" fill="#ff00ff" text-anchor="start" textLength="27.0" lengthAdjust="spacingAndGlyphs" >4500</text>
<line x1="438.3" y1="478.9" x2="438.3" y2="580" stroke="#ff00ff" stroke-width="1.2" />
<polygon points="438.3,478.9 436.8,486.4 439.8,486.4" fill="#ff00ff"/>
<polygon points="438.3,580 436.8,572.5 439.8,572.5" fill="#ff00ff"/>
<line x1="413.7" y1="579.3" x2="438.5" y2="579.3" stroke="#ff00ff" stroke-width="1.2" />
<line x1="413.7" y1="478.9" x2="438.5" y2="478.9" stroke="#ff00ff" stroke-width="1.2" />
<text x="0" y="0" font-size="12.3" fill="#ff00ff" text-anchor="middle" textLength="27.4" lengthAdjust="spacingAndGlyphs" transform="translate(436,530) rotate(-90)">3500</text>
<polyline points="3.4,473.6 86.5,473.6 86.5,479.4 3,479.4" fill="none" stroke="#e5a877" stroke-width="1"/>
<rect x="5.3" y="479.6" width="76.1" height="11.7" stroke="#000" stroke-width="1.1" fill="none" />
<line x1="11.15" y1="479.6" x2="11.15" y2="491.3" stroke="#000" stroke-width="1.6" />
<line x1="17.01" y1="479.6" x2="17.01" y2="491.3" stroke="#000" stroke-width="1.6" />
<line x1="22.86" y1="479.6" x2="22.86" y2="491.3" stroke="#000" stroke-width="1.6" />
<line x1="28.72" y1="479.6" x2="28.72" y2="491.3" stroke="#000" stroke-width="1.6" />
<line x1="34.57" y1="479.6" x2="34.57" y2="491.3" stroke="#000" stroke-width="1.6" />
<line x1="40.42" y1="479.6" x2="40.42" y2="491.3" stroke="#000" stroke-width="1.6" />
<line x1="46.28" y1="479.6" x2="46.28" y2="491.3" stroke="#000" stroke-width="1.6" />
<line x1="52.13" y1="479.6" x2="52.13" y2="491.3" stroke="#000" stroke-width="1.6" />
<line x1="57.98" y1="479.6" x2="57.98" y2="491.3" stroke="#000" stroke-width="1.6" />
<line x1="63.84" y1="479.6" x2="63.84" y2="491.3" stroke="#000" stroke-width="1.6" />
<line x1="69.69" y1="479.6" x2="69.69" y2="491.3" stroke="#000" stroke-width="1.6" />
<line x1="75.55" y1="479.6" x2="75.55" y2="491.3" stroke="#000" stroke-width="1.6" />
<line x1="5.3" y1="482.53" x2="81.4" y2="482.53" stroke="#000" stroke-width="1.6" />
<line x1="5.3" y1="485.45" x2="81.4" y2="485.45" stroke="#000" stroke-width="1.6" />
<line x1="5.3" y1="488.38" x2="81.4" y2="488.38" stroke="#000" stroke-width="1.6" />
<rect x="5.3" y="516" width="12.4" height="64" stroke="#000" stroke-width="1.1" fill="none" />
<line x1="8.4" y1="516" x2="8.4" y2="580" stroke="#000" stroke-width="1.1" />
<line x1="11.5" y1="516" x2="11.5" y2="580" stroke="#000" stroke-width="1.1" />
<line x1="14.6" y1="516" x2="14.6" y2="580" stroke="#000" stroke-width="1.1" />
<line x1="5.3" y1="522.4" x2="17.7" y2="522.4" stroke="#000" stroke-width="1.1" />
<line x1="5.3" y1="528.8" x2="17.7" y2="528.8" stroke="#000" stroke-width="1.1" />
<line x1="5.3" y1="535.2" x2="17.7" y2="535.2" stroke="#000" stroke-width="1.1" />
<line x1="5.3" y1="541.6" x2="17.7" y2="541.6" stroke="#000" stroke-width="1.1" />
<line x1="5.3" y1="548.0" x2="17.7" y2="548.0" stroke="#000" stroke-width="1.1" />
<line x1="5.3" y1="554.4" x2="17.7" y2="554.4" stroke="#000" stroke-width="1.1" />
<line x1="5.3" y1="560.8" x2="17.7" y2="560.8" stroke="#000" stroke-width="1.1" />
<line x1="5.3" y1="567.2" x2="17.7" y2="567.2" stroke="#000" stroke-width="1.1" />
<line x1="5.3" y1="573.6" x2="17.7" y2="573.6" stroke="#000" stroke-width="1.1" />
<rect x="40.4" y="516" width="12.4" height="64" stroke="#000" stroke-width="1.1" fill="none" />
<line x1="43.5" y1="516" x2="43.5" y2="580" stroke="#000" stroke-width="1.1" />
<line x1="46.6" y1="516" x2="46.6" y2="580" stroke="#000" stroke-width="1.1" />
<line x1="49.7" y1="516" x2="49.7" y2="580" stroke="#000" stroke-width="1.1" />
<line x1="40.4" y1="522.4" x2="52.8" y2="522.4" stroke="#000" stroke-width="1.1" />
<line x1="40.4" y1="528.8" x2="52.8" y2="528.8" stroke="#000" stroke-width="1.1" />
<line x1="40.4" y1="535.2" x2="52.8" y2="535.2" stroke="#000" stroke-width="1.1" />
<line x1="40.4" y1="541.6" x2="52.8" y2="541.6" stroke="#000" stroke-width="1.1" />
<line x1="40.4" y1="548.0" x2="52.8" y2="548.0" stroke="#000" stroke-width="1.1" />
<line x1="40.4" y1="554.4" x2="52.8" y2="554.4" stroke="#000" stroke-width="1.1" />
<line x1="40.4" y1="560.8" x2="52.8" y2="560.8" stroke="#000" stroke-width="1.1" />
<line x1="40.4" y1="567.2" x2="52.8" y2="567.2" stroke="#000" stroke-width="1.1" />
<line x1="40.4" y1="573.6" x2="52.8" y2="573.6" stroke="#000" stroke-width="1.1" />
<rect x="74.9" y="516" width="12.4" height="64" stroke="#000" stroke-width="1.1" fill="none" />
<line x1="78.0" y1="516" x2="78.0" y2="580" stroke="#000" stroke-width="1.1" />
<line x1="81.1" y1="516" x2="81.1" y2="580" stroke="#000" stroke-width="1.1" />
<line x1="84.2" y1="516" x2="84.2" y2="580" stroke="#000" stroke-width="1.1" />
<line x1="74.9" y1="522.4" x2="87.30000000000001" y2="522.4" stroke="#000" stroke-width="1.1" />
<line x1="74.9" y1="528.8" x2="87.30000000000001" y2="528.8" stroke="#000" stroke-width="1.1" />
<line x1="74.9" y1="535.2" x2="87.30000000000001" y2="535.2" stroke="#000" stroke-width="1.1" />
<line x1="74.9" y1="541.6" x2="87.30000000000001" y2="541.6" stroke="#000" stroke-width="1.1" />
<line x1="74.9" y1="548.0" x2="87.30000000000001" y2="548.0" stroke="#000" stroke-width="1.1" />
<line x1="74.9" y1="554.4" x2="87.30000000000001" y2="554.4" stroke="#000" stroke-width="1.1" />
<line x1="74.9" y1="560.8" x2="87.30000000000001" y2="560.8" stroke="#000" stroke-width="1.1" />
<line x1="74.9" y1="567.2" x2="87.30000000000001" y2="567.2" stroke="#000" stroke-width="1.1" />
<line x1="74.9" y1="573.6" x2="87.30000000000001" y2="573.6" stroke="#000" stroke-width="1.1" />
<rect x="109.4" y="516" width="12.4" height="64" stroke="#000" stroke-width="1.1" fill="none" />
<line x1="112.5" y1="516" x2="112.5" y2="580" stroke="#000" stroke-width="1.1" />
<line x1="115.6" y1="516" x2="115.6" y2="580" stroke="#000" stroke-width="1.1" />
<line x1="118.7" y1="516" x2="118.7" y2="580" stroke="#000" stroke-width="1.1" />
<line x1="109.4" y1="522.4" x2="121.80000000000001" y2="522.4" stroke="#000" stroke-width="1.1" />
<line x1="109.4" y1="528.8" x2="121.80000000000001" y2="528.8" stroke="#000" stroke-width="1.1" />
<line x1="109.4" y1="535.2" x2="121.80000000000001" y2="535.2" stroke="#000" stroke-width="1.1" />
<line x1="109.4" y1="541.6" x2="121.80000000000001" y2="541.6" stroke="#000" stroke-width="1.1" />
<line x1="109.4" y1="548.0" x2="121.80000000000001" y2="548.0" stroke="#000" stroke-width="1.1" />
<line x1="109.4" y1="554.4" x2="121.80000000000001" y2="554.4" stroke="#000" stroke-width="1.1" />
<line x1="109.4" y1="560.8" x2="121.80000000000001" y2="560.8" stroke="#000" stroke-width="1.1" />
<line x1="109.4" y1="567.2" x2="121.80000000000001" y2="567.2" stroke="#000" stroke-width="1.1" />
<line x1="109.4" y1="573.6" x2="121.80000000000001" y2="573.6" stroke="#000" stroke-width="1.1" />
<path d="M87.2,473.7 A26.4,20.5 0 0 0 140,473.7" fill="none" stroke="#555" stroke-width="0.8"/>
<line x1="87.2" y1="473.7" x2="140" y2="473.7" stroke="#ff00ff" stroke-width="1.1" stroke-dasharray="2.5,1.6"/>
<path d="M91.7,473.9 A6.5,4.2 0 0 0 104.7,473.9" fill="none" stroke="#e5a877" stroke-width="1"/>
<path d="M122.1,473.9 A6.5,4.2 0 0 0 135.1,473.9" fill="none" stroke="#e5a877" stroke-width="1"/>
<rect x="109.5" y="473.7" width="2" height="15" fill="#888" stroke="#555" stroke-width="0.5"/>
<polygon points="107.7,494 113.3,494 112.1,488.5 108.9,488.5" fill="#444"/>
<rect x="115.4" y="473.7" width="2" height="15" fill="#888" stroke="#555" stroke-width="0.5"/>
<polygon points="113.60000000000001,494 119.2,494 118.0,488.5 114.80000000000001,488.5" fill="#444"/>
<line x1="142.6" y1="473.6" x2="142.6" y2="580" stroke="#e5a877" stroke-width="1" />
<line x1="148.4" y1="479.4" x2="148.4" y2="580" stroke="#e5a877" stroke-width="1" />
<line x1="142.6" y1="473.6" x2="157" y2="473.6" stroke="#111" stroke-width="1.2" />
<line x1="157" y1="473.6" x2="157" y2="580" stroke="#333" stroke-width="1.2" />
<line x1="148.4" y1="473.6" x2="419.6" y2="473.6" stroke="#e5a877" stroke-width="1" />
<line x1="148.4" y1="479.3" x2="278" y2="479.3" stroke="#e5a877" stroke-width="1" />
<line x1="283.3" y1="479.3" x2="413.7" y2="479.3" stroke="#e5a877" stroke-width="1" />
<line x1="278" y1="473.6" x2="278" y2="580" stroke="#e5a877" stroke-width="1" />
<line x1="283.3" y1="473.6" x2="283.3" y2="580" stroke="#e5a877" stroke-width="1" />
<line x1="413.7" y1="479.3" x2="413.7" y2="580" stroke="#e5a877" stroke-width="1" />
<line x1="419.6" y1="473.6" x2="419.6" y2="580" stroke="#e5a877" stroke-width="1" />
<line x1="193.5" y1="475.3" x2="232.6" y2="475.3" stroke="#888" stroke-width="0.8" />
<line x1="193.5" y1="477.8" x2="232.6" y2="477.8" stroke="#888" stroke-width="0.8" />
<line x1="213.05" y1="474.5" x2="213.05" y2="478.6" stroke="#888" stroke-width="0.7" />
<polygon points="190.5,476.5 194.5,474 194.5,479" fill="#e5a877" opacity="0.7"/>
<polygon points="235.6,476.5 231.6,474 231.6,479" fill="#e5a877" opacity="0.7"/>
<rect x="194.64" y="497" width="13.72" height="2.616" rx="1.5" fill="none" stroke="#9a9a9a" stroke-width="0.8"/>
<rect x="193.66" y="499.616" width="15.680000000000001" height="17.004" rx="5.88" fill="#fff" stroke="#9a9a9a" stroke-width="0.9"/>
<rect x="191.7" y="502.45" width="2.7440000000000007" height="11.990000000000002" rx="1.5" fill="none" stroke="#9a9a9a" stroke-width="0.8"/>
<rect x="208.55599999999998" y="502.45" width="2.7440000000000007" height="11.990000000000002" rx="1.5" fill="none" stroke="#9a9a9a" stroke-width="0.8"/>
<rect x="195.61999999999998" y="516.184" width="11.76" height="2.616" rx="1" fill="none" stroke="#9a9a9a" stroke-width="0.8"/>
<rect x="247.14499999999998" y="497" width="14.209999999999999" height="2.616" rx="1.5" fill="none" stroke="#9a9a9a" stroke-width="0.8"/>
<rect x="246.13" y="499.616" width="16.240000000000002" height="17.004" rx="6.09" fill="#fff" stroke="#9a9a9a" stroke-width="0.9"/>
<rect x="244.1" y="502.45" width="2.8420000000000005" height="11.990000000000002" rx="1.5" fill="none" stroke="#9a9a9a" stroke-width="0.8"/>
<rect x="261.558" y="502.45" width="2.8420000000000005" height="11.990000000000002" rx="1.5" fill="none" stroke="#9a9a9a" stroke-width="0.8"/>
<rect x="248.16" y="516.184" width="12.18" height="2.616" rx="1" fill="none" stroke="#9a9a9a" stroke-width="0.8"/>
<rect x="212.12" y="546.7" width="17.76" height="15.36" rx="6.659999999999999" fill="#fff" stroke="#9a9a9a" stroke-width="0.9"/>
<rect x="209.9" y="550.5400000000001" width="2.6639999999999997" height="10.56" rx="1.5" fill="none" stroke="#9a9a9a" stroke-width="0.8"/>
<rect x="229.436" y="550.5400000000001" width="2.6639999999999997" height="10.56" rx="1.5" fill="none" stroke="#9a9a9a" stroke-width="0.8"/>
<path d="M213.23000000000002,563.0200000000001 Q221.0,566.284 228.77,563.0200000000001" fill="none" stroke="#9a9a9a" stroke-width="1.2"/>
<rect x="192.1" y="519.4" width="52.8" height="26.1" stroke="#e5a877" stroke-width="1" fill="none" />
<rect x="244.9" y="519.4" width="19.5" height="48.8" stroke="#e5a877" stroke-width="1" fill="none" />
<text x="203.5" y="535.9" font-size="9.6" font-weight="bold" fill="#d6985e" textLength="30" lengthAdjust="spacingAndGlyphs" stroke="#dba06a" stroke-width="0.9">OFFICE</text>
<rect x="247" y="540.5" width="5" height="11.5" stroke="#888" stroke-width="0.8" fill="none" />
<rect x="249" y="542" width="3" height="8.5" stroke="#888" stroke-width="0.6" fill="none" />
<rect x="252" y="542.5" width="9" height="7.5" stroke="#888" stroke-width="0.8" fill="none" />
<rect x="261" y="543.5" width="2.4" height="5.5" stroke="#888" stroke-width="0.7" fill="none" />
<line x1="327.5" y1="475.3" x2="366.6" y2="475.3" stroke="#888" stroke-width="0.8" />
<line x1="327.5" y1="477.8" x2="366.6" y2="477.8" stroke="#888" stroke-width="0.8" />
<line x1="347.05" y1="474.5" x2="347.05" y2="478.6" stroke="#888" stroke-width="0.7" />
<polygon points="324.5,476.5 328.5,474 328.5,479" fill="#e5a877" opacity="0.7"/>
<polygon points="369.6,476.5 365.6,474 365.6,479" fill="#e5a877" opacity="0.7"/>
<rect x="324.94" y="497" width="13.72" height="2.616" rx="1.5" fill="none" stroke="#9a9a9a" stroke-width="0.8"/>
<rect x="323.96" y="499.616" width="15.680000000000001" height="17.004" rx="5.88" fill="#fff" stroke="#9a9a9a" stroke-width="0.9"/>
<rect x="322.0" y="502.45" width="2.7440000000000007" height="11.990000000000002" rx="1.5" fill="none" stroke="#9a9a9a" stroke-width="0.8"/>
<rect x="338.856" y="502.45" width="2.7440000000000007" height="11.990000000000002" rx="1.5" fill="none" stroke="#9a9a9a" stroke-width="0.8"/>
<rect x="325.92" y="516.184" width="11.76" height="2.616" rx="1" fill="none" stroke="#9a9a9a" stroke-width="0.8"/>
<rect x="377.445" y="497" width="14.209999999999999" height="2.616" rx="1.5" fill="none" stroke="#9a9a9a" stroke-width="0.8"/>
<rect x="376.42999999999995" y="499.616" width="16.240000000000002" height="17.004" rx="6.09" fill="#fff" stroke="#9a9a9a" stroke-width="0.9"/>
<rect x="374.4" y="502.45" width="2.8420000000000005" height="11.990000000000002" rx="1.5" fill="none" stroke="#9a9a9a" stroke-width="0.8"/>
<rect x="391.858" y="502.45" width="2.8420000000000005" height="11.990000000000002" rx="1.5" fill="none" stroke="#9a9a9a" stroke-width="0.8"/>
<rect x="378.46" y="516.184" width="12.18" height="2.616" rx="1" fill="none" stroke="#9a9a9a" stroke-width="0.8"/>
<rect x="342.4200000000001" y="546.7" width="17.76" height="15.36" rx="6.659999999999999" fill="#fff" stroke="#9a9a9a" stroke-width="0.9"/>
<rect x="340.20000000000005" y="550.5400000000001" width="2.6639999999999997" height="10.56" rx="1.5" fill="none" stroke="#9a9a9a" stroke-width="0.8"/>
<rect x="359.73600000000005" y="550.5400000000001" width="2.6639999999999997" height="10.56" rx="1.5" fill="none" stroke="#9a9a9a" stroke-width="0.8"/>
<path d="M343.53000000000003,563.0200000000001 Q351.30000000000007,566.284 359.07000000000005,563.0200000000001" fill="none" stroke="#9a9a9a" stroke-width="1.2"/>
<rect x="322.4" y="519.4" width="52.8" height="26.1" stroke="#e5a877" stroke-width="1" fill="none" />
<rect x="375.20000000000005" y="519.4" width="19.5" height="48.8" stroke="#e5a877" stroke-width="1" fill="none" />
<text x="333.8" y="535.9" font-size="9.6" font-weight="bold" fill="#d6985e" textLength="30" lengthAdjust="spacingAndGlyphs" stroke="#dba06a" stroke-width="0.9">OFFICE</text>
<rect x="377.3" y="540.5" width="5" height="11.5" stroke="#888" stroke-width="0.8" fill="none" />
<rect x="379.3" y="542" width="3" height="8.5" stroke="#888" stroke-width="0.6" fill="none" />
<rect x="382.3" y="542.5" width="9" height="7.5" stroke="#888" stroke-width="0.8" fill="none" />
<rect x="391.3" y="543.5" width="2.4" height="5.5" stroke="#888" stroke-width="0.7" fill="none" />
</svg></body></html>
